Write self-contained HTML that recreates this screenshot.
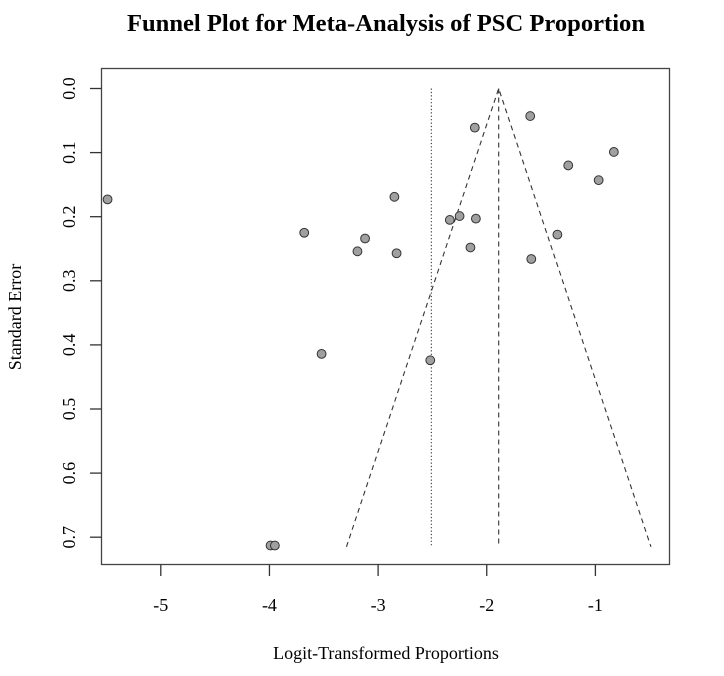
<!DOCTYPE html>
<html><head><meta charset="utf-8"><style>
html,body{margin:0;padding:0;background:#fff;}
svg text{font-family:"Liberation Serif",serif;fill:#000;}
</style></head><body>
<svg id="chart" width="724" height="671" viewBox="0 0 724 671" xmlns="http://www.w3.org/2000/svg">
<text x="386" y="31" text-anchor="middle" font-size="24" font-weight="bold" textLength="518" lengthAdjust="spacingAndGlyphs">Funnel Plot for Meta-Analysis of PSC Proportion</text>
<rect x="101.5" y="68.5" width="568" height="496" fill="none" stroke="#444" stroke-width="1.3"/>
<g id="marks"></g>
<text x="386" y="659" text-anchor="middle" font-size="18">Logit-Transformed Proportions</text>
<text transform="translate(21,317) rotate(-90)" text-anchor="middle" font-size="18">Standard Error</text>
</svg>
<script>
const xVals = [-5.49,-1.60,-2.11,-0.83,-1.25,-0.97,-2.85,-2.25,-2.34,-2.10,-3.68,-3.12,-1.35,-2.15,-3.19,-2.83,-1.59,-3.52,-2.52,-3.99,-3.95];
const seVals = [0.173,0.043,0.061,0.099,0.120,0.143,0.169,0.199,0.205,0.203,0.225,0.234,0.228,0.248,0.254,0.257,0.266,0.414,0.424,0.713,0.713];
const xTicks = [-5,-4,-3,-2,-1];
const yTicks = [0.0,0.1,0.2,0.3,0.4,0.5,0.6,0.7];
const yTickLabels = ["0.0","0.1","0.2","0.3","0.4","0.5","0.6","0.7"];
const pooledEstimate = -1.89;
const refLine = -2.51;
const maxSE = 0.715;

const NS='http://www.w3.org/2000/svg';
const g=document.getElementById('marks');
const xs=v=>160.8+(v+5)*108.65;
const ys=v=>88.5+v*641;
function mk(tag,attrs){const e=document.createElementNS(NS,tag);for(const k in attrs)e.setAttribute(k,attrs[k]);g.appendChild(e);return e;}

xTicks.forEach(t=>{
  const l=mk('line',{x1:xs(t),x2:xs(t),y1:564.5,y2:576,stroke:'#333','stroke-width':1.3});
  
  
  const tx=mk('text',{x:xs(t),y:611,'text-anchor':'middle','font-size':18});
  tx.textContent=String(t);
  
  
});
yTicks.forEach((t,i)=>{
  const l=mk('line',{x1:90,x2:101.5,y1:ys(t),y2:ys(t),stroke:'#333','stroke-width':1.3});
  
  
  const tx=mk('text',{transform:`translate(75,${ys(t)}) rotate(-90)`,'text-anchor':'middle','font-size':18});
  tx.textContent=yTickLabels[i];
  
  
});
let ln=mk('line',{x1:xs(refLine),x2:xs(refLine),y1:ys(0),y2:ys(maxSE),stroke:'#333','stroke-width':1.1,'stroke-dasharray':'1.2,2.2'});


ln=mk('line',{x1:xs(pooledEstimate),x2:xs(pooledEstimate),y1:ys(0),y2:ys(maxSE),stroke:'#333','stroke-width':1.1,'stroke-dasharray':'5,4'});


ln=mk('polyline',{points:`${xs(pooledEstimate-1.96*maxSE)},${ys(maxSE)} ${xs(pooledEstimate)},${ys(0)} ${xs(pooledEstimate+1.96*maxSE)},${ys(maxSE)}`,fill:'none',stroke:'#333','stroke-width':1.1,'stroke-dasharray':'5,4'});


xVals.forEach((v,i)=>{
  const c=mk('circle',{cx:xs(v),cy:ys(seVals[i]),r:4.4,fill:'#a0a0a0',stroke:'#333','stroke-width':1});
  
  
});
</script>
</body></html>
